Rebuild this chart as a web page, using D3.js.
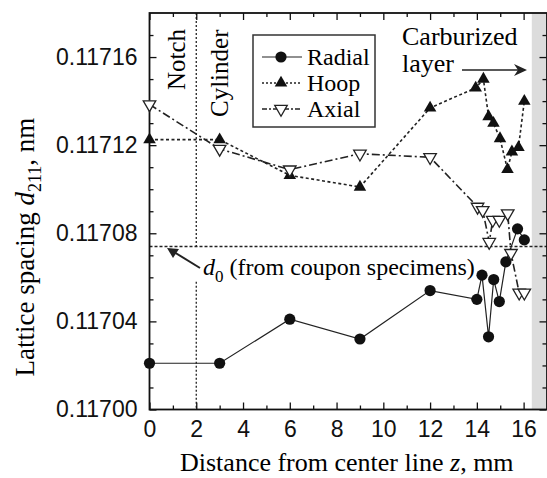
<!DOCTYPE html>
<html>
<head>
<meta charset="utf-8">
<script src="https://cdn.jsdelivr.net/npm/d3@7"></script>
<style>
body { margin: 0; background: #fff; }
svg { display: block; font-family: "Liberation Serif", "Times New Roman", serif; }
.axis text { font-size: 23px; fill: #111; }
.axis line { stroke: #111; stroke-width: 1.3; }
.axis path { display: none; }
</style>
</head>
<body>
<script>
var W = 547, H = 478;

// data
var radialZ = [0, 3, 6, 9, 12, 14, 14.22, 14.5, 14.72, 14.96, 15.24, 15.74, 16.03];
var radialD = [0.117021, 0.117021, 0.117041, 0.117032, 0.117054, 0.117050, 0.117061,
    0.117033, 0.117059, 0.117049, 0.117067, 0.117082, 0.117077];
var hoopZ = [0, 3, 6, 9, 12, 13.95, 14.28, 14.5, 14.71, 14.99, 15.31, 15.5, 15.78, 16.03];
var hoopD = [0.1171225, 0.1171225, 0.1171063, 0.117101, 0.1171369, 0.117146, 0.117150,
    0.117133, 0.117130, 0.117123, 0.117109, 0.117117, 0.117119, 0.117140];
var axialZ = [0, 3, 6, 9, 12, 14.03, 14.25, 14.53, 14.68, 14.96, 15.32, 15.46, 15.81, 16.03];
var axialD = [0.1171385, 0.1171183, 0.1171089, 0.1171161, 0.1171145, 0.117092, 0.1170905,
    0.117076, 0.117086, 0.117086, 0.117089, 0.117071, 0.117053, 0.117053];
var d0 = 0.117074;
var notchZ = 2;
var carbZ = [16.35, 17];

var xMajor = [0, 2, 4, 6, 8, 10, 12, 14, 16];
var xMinor = [1, 3, 5, 7, 9, 11, 13, 15];
var yMajor = [0.11700, 0.11704, 0.11708, 0.11712, 0.11716];
var yMinor = [0.11701, 0.11702, 0.11703, 0.11705, 0.11706, 0.11707, 0.11709, 0.11710,
    0.11711, 0.11713, 0.11714, 0.11715, 0.11717];

var x = {domain: [0, 17], range: [149.5, 547]};
var y = {domain: [0.11700, 0.11718], range: [409.5, 13]};
x.scale = d3.scaleLinear().domain(x.domain).range(x.range);
y.scale = d3.scaleLinear().domain(y.domain).range(y.range);

var zip = (a, b) => a.map((v, i) => ({x: v, y: b[i]}));
var series = [
    {name: "Radial", pts: zip(radialZ, radialD), dash: null, sym: "circle"},
    {name: "Hoop", pts: zip(hoopZ, hoopD), dash: "3,2.5", sym: "up"},
    {name: "Axial", pts: zip(axialZ, axialD), dash: "8,3,2,3", sym: "down"},
];

var svg = d3.select("body").append("svg")
    .attr("width", W)
    .attr("height", H)
;

// carburized band
svg.append("rect")
    .attr("x", x.scale(carbZ[0]))
    .attr("y", y.range[1])
    .attr("width", x.scale(carbZ[1]) - x.scale(carbZ[0]))
    .attr("height", y.range[0] - y.range[1])
    .attr("fill", "#dcdcdc")
;

// reference lines
svg.append("line")
    .attr("x1", x.range[0]).attr("x2", x.range[1])
    .attr("y1", y.scale(d0)).attr("y2", y.scale(d0))
    .attr("stroke", "#222").attr("stroke-width", 1.3).attr("stroke-dasharray", "3,2")
;
svg.append("line")
    .attr("x1", x.scale(notchZ)).attr("x2", x.scale(notchZ))
    .attr("y1", y.range[1]).attr("y2", y.scale(d0))
    .attr("stroke", "#222").attr("stroke-width", 1.3).attr("stroke-dasharray", "2,2")
;
svg.append("line")
    .attr("x1", x.scale(notchZ)).attr("x2", x.scale(notchZ))
    .attr("y1", y.scale(0.117058)).attr("y2", y.range[0])
    .attr("stroke", "#222").attr("stroke-width", 1.3).attr("stroke-dasharray", "2,2")
;

// axes, ticks pointing inward
function addAxis(axisFn, values, len, transform, labels) {
    var a = axisFn.tickValues(values).tickSize(-len).tickSizeOuter(0);
    if (!labels) a.tickFormat("");
    return svg.append("g")
        .attr("class", "axis")
        .attr("transform", transform)
        .call(a)
    ;
}
var bx = `translate(0,${y.range[0]})`, tx = `translate(0,${y.range[1]})`;
var lx = `translate(${x.range[0]},0)`, rx = `translate(${x.range[1] - 0.5},0)`;
addAxis(d3.axisBottom(x.scale).tickPadding(11), xMajor, 7, bx, true);
addAxis(d3.axisBottom(x.scale), xMinor, 4, bx, false);
addAxis(d3.axisTop(x.scale), xMajor, 7, tx, false);
addAxis(d3.axisTop(x.scale), xMinor, 4, tx, false);
addAxis(d3.axisLeft(y.scale).tickPadding(12).tickFormat(d3.format(".5f")), yMajor, 7, lx, true);
addAxis(d3.axisLeft(y.scale), yMinor, 4, lx, false);
addAxis(d3.axisRight(y.scale), yMajor, 7, rx, false);
addAxis(d3.axisRight(y.scale), yMinor, 4, rx, false);

svg.append("rect")
    .attr("x", x.range[0])
    .attr("y", y.range[1])
    .attr("width", x.range[1] - x.range[0])
    .attr("height", y.range[0] - y.range[1])
    .attr("fill", "none")
    .attr("stroke", "#111")
    .attr("stroke-width", 1.8)
;

// series
var line = d3.line()
    .x(d => x.scale(d.x))
    .y(d => y.scale(d.y))
;
var tri = d3.symbol().type(d3.symbolTriangle).size(68);

function marker(g, sym) {
    if (sym === "circle") {
        g.append("circle").attr("r", 5.6).attr("fill", "#111");
    } else if (sym === "up") {
        g.append("path").attr("d", tri()).attr("fill", "#111");
    } else {
        g.append("path").attr("d", tri())
            .attr("transform", "rotate(180)")
            .attr("fill", "#fff").attr("stroke", "#222").attr("stroke-width", 1.3);
    }
}

series.forEach(function(s) {
    svg.append("path")
        .attr("d", line(s.pts))
        .attr("fill", "none")
        .attr("stroke", "#222")
        .attr("stroke-width", s.dash ? 1.6 : 1.2)
        .attr("stroke-dasharray", s.dash)
    ;
    svg.append("g").selectAll("g")
        .data(s.pts)
        .enter().append("g")
        .attr("transform", d => `translate(${x.scale(d.x)},${y.scale(d.y)})`)
        .each(function() { marker(d3.select(this), s.sym); })
    ;
});

// legend
var leg = svg.append("g").attr("transform", "translate(253,35)");
leg.append("rect")
    .attr("width", 122).attr("height", 92)
    .attr("fill", "#fff").attr("stroke", "#333").attr("stroke-width", 1.5)
;
series.forEach(function(s, i) {
    var ly = 22 + i * 26;
    leg.append("line")
        .attr("x1", 9).attr("x2", 49).attr("y1", ly).attr("y2", ly)
        .attr("stroke", "#222").attr("stroke-width", s.dash ? 1.4 : 1.2)
        .attr("stroke-dasharray", s.dash ? (i === 1 ? "2,2" : "5,2,2,2") : null)
    ;
    marker(leg.append("g").attr("transform", `translate(28,${ly})`), s.sym);
    leg.append("text")
        .attr("x", 54).attr("y", ly + 8)
        .attr("font-size", 24)
        .text(s.name)
    ;
});

// axis titles
svg.append("text")
    .attr("x", 180).attr("y", 471)
    .attr("font-size", 26)
    .html('Distance from center line <tspan font-style="italic">z</tspan>, mm')
;
svg.append("text")
    .attr("transform", "translate(34,247) rotate(-90)")
    .attr("text-anchor", "middle")
    .attr("font-size", 27)
    .html('Lattice spacing <tspan font-style="italic">d</tspan><tspan dy="7" font-size="18">211</tspan><tspan dy="-7">, nm</tspan>')
;

// annotations
svg.append("text")
    .attr("transform", "translate(185,90) rotate(-90)")
    .attr("font-size", 25)
    .text("Notch")
;
svg.append("text")
    .attr("transform", "translate(228,117) rotate(-90)")
    .attr("font-size", 25)
    .text("Cylinder")
;
svg.append("text").attr("x", 402).attr("y", 45).attr("font-size", 26).text("Carburized");
svg.append("text").attr("x", 402).attr("y", 72).attr("font-size", 26).text("layer");
svg.append("line")
    .attr("x1", 462).attr("x2", 522).attr("y1", 70).attr("y2", 70)
    .attr("stroke", "#222").attr("stroke-width", 1.3)
;
svg.append("path")
    .attr("d", "M527,70 L514,64 L518,70 L514,76 Z")
    .attr("fill", "#222")
;

svg.append("text")
    .attr("x", 203).attr("y", 275)
    .attr("font-size", 24)
    .html('<tspan font-style="italic">d</tspan><tspan dy="7" font-size="17">0</tspan><tspan dy="-7"> (from coupon specimens)</tspan>')
;
svg.append("line")
    .attr("x1", 200).attr("y1", 268).attr("x2", 174).attr("y2", 252)
    .attr("stroke", "#222").attr("stroke-width", 2)
;
svg.append("path")
    .attr("d", "M167,248 L179,249 L173,258 Z")
    .attr("fill", "#222")
;
</script>
</body>
</html>
